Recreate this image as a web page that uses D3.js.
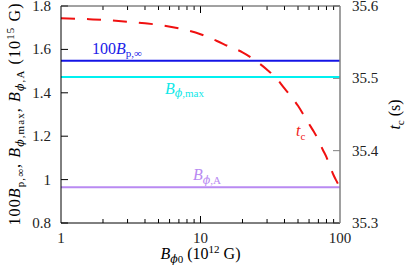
<!DOCTYPE html>
<html>
<head>
<meta charset="utf-8">
<script src="https://cdn.jsdelivr.net/npm/d3@7"></script>
<style>
  body { margin: 0; background: #fff; }
  text { font-family: "Liberation Serif", "DejaVu Serif", serif; }
</style>
</head>
<body>
<div id="chart"></div>
<script>
// Data
var bField = [1, 1.5, 2, 3, 4, 5, 7, 10, 13, 16, 20, 25, 30, 35, 40, 45, 50, 55, 60, 65, 70, 75, 80, 85, 90, 95, 100];
var tc = [35.583, 35.582, 35.581, 35.578, 35.576, 35.574, 35.569, 35.561, 35.552, 35.544, 35.536, 35.524, 35.512,
          35.500, 35.486, 35.474, 35.462, 35.449, 35.437, 35.426, 35.415, 35.402, 35.391, 35.378, 35.366, 35.357, 35.349];
var bpInf100 = 1.548;   // 100 B_p,inf
var bPhiMax = 1.473;
var bPhiA = 0.965;
var leftTicks = [0.8, 1, 1.2, 1.4, 1.6, 1.8];
var rightTicks = [35.3, 35.4, 35.5, 35.6];
var xTicks = [1, 10, 100];

var width = 407, height = 265;
var margin = { top: 6, right: 67, bottom: 42, left: 61 };
var w = width - margin.left - margin.right;
var h = height - margin.top - margin.bottom;
var PHI = '\u03D5';

var svg = d3.select('#chart').append('svg')
    .attr('width', width)
    .attr('height', height);

var g = svg.append('g').attr('transform', 'translate(' + margin.left + ',' + margin.top + ')');

// Scales
var x = d3.scaleLog().domain([1, 100]).range([0, w]);
var yL = d3.scaleLinear().domain([0.8, 1.8]).range([h, 0]);
var yR = d3.scaleLinear().domain([35.3, 35.6]).range([h, 0]);

// minor log ticks
var minor = [];
[1, 10].forEach(function (d) { for (var k = 2; k <= 9; k++) minor.push(d * k); });

function xTickMarks(y0, dir) {
    g.selectAll(null).data(minor).enter().append('line')
        .attr('x1', d => x(d)).attr('x2', d => x(d))
        .attr('y1', y0).attr('y2', y0 + dir * 4)
        .attr('stroke', '#000').attr('stroke-width', 1);
    g.selectAll(null).data([10]).enter().append('line')
        .attr('x1', d => x(d)).attr('x2', d => x(d))
        .attr('y1', y0).attr('y2', y0 + dir * 7)
        .attr('stroke', '#000').attr('stroke-width', 1);
}
xTickMarks(h, -1);
xTickMarks(0, 1);

// left ticks
g.selectAll(null).data(leftTicks).enter().append('line')
    .attr('x1', 0).attr('x2', 7)
    .attr('y1', d => yL(d)).attr('y2', d => yL(d))
    .attr('stroke', '#000');
g.selectAll(null).data(leftTicks).enter().append('text')
    .attr('x', -10).attr('y', d => yL(d) + 5)
    .attr('text-anchor', 'end')
    .style('font-size', '15px')
    .attr('fill', '#222')
    .text(d => d);

// right ticks (grey)
g.selectAll(null).data(rightTicks).enter().append('line')
    .attr('x1', w).attr('x2', w - 7)
    .attr('y1', d => yR(d)).attr('y2', d => yR(d))
    .attr('stroke', '#808080');
g.selectAll(null).data(rightTicks).enter().append('text')
    .attr('x', w + 12).attr('y', d => yR(d) + 5)
    .style('font-size', '15px')
    .attr('fill', '#222')
    .text(d => d.toFixed(1));

// x tick labels
g.selectAll(null).data(xTicks).enter().append('text')
    .attr('x', d => x(d)).attr('y', h + 20)
    .attr('text-anchor', 'middle')
    .style('font-size', '15px')
    .attr('fill', '#222')
    .text(d => d);

// horizontal lines
var hl = [
    { v: bpInf100, c: '#1414e6' },
    { v: bPhiMax, c: '#00f0f0' },
    { v: bPhiA, c: '#b98af2' }
];
g.selectAll(null).data(hl).enter().append('line')
    .attr('x1', 0).attr('x2', w)
    .attr('y1', d => yL(d.v)).attr('y2', d => yL(d.v))
    .attr('stroke', d => d.c).attr('stroke-width', 2);

// tc curve
var line = d3.line().x((d, i) => x(bField[i])).y(d => yR(d)).curve(d3.curveMonotoneX);
g.append('path')
    .datum(tc)
    .attr('d', line)
    .attr('fill', 'none')
    .attr('stroke', '#f01010')
    .attr('stroke-width', 2)
    .attr('stroke-dasharray', '14,12');

// frame
g.append('line').attr('x1', 0).attr('x2', 0).attr('y1', 0).attr('y2', h).attr('stroke', '#000');
g.append('line').attr('x1', 0).attr('x2', w).attr('y1', h).attr('y2', h).attr('stroke', '#000');
g.append('line').attr('x1', 0).attr('x2', w).attr('y1', 0).attr('y2', 0).attr('stroke', '#444');
g.append('line').attr('x1', w).attr('x2', w).attr('y1', 0).attr('y2', h).attr('stroke', '#808080').attr('stroke-width', 1.5);

// math-ish label helper: italic symbol with subscript (phi drawn from DejaVu Serif)
function sub(t, main, subs, size) {
    t.append('tspan').style('font-style', 'italic').text(main);
    var s = t.append('tspan').attr('dy', 3.5).style('font-size', size);
    if (subs.charAt(0) === PHI) {
        s.append('tspan').style('font-family', 'DejaVu Serif').style('font-style', 'italic').text(PHI);
        s.append('tspan').text(subs.slice(1));
    } else {
        s.text(subs);
    }
}
var l1 = g.append('text').attr('x', 31).attr('y', yL(bpInf100) - 7).attr('fill', '#2020e8').style('font-size', '16px');
l1.append('tspan').text('100');
sub(l1, 'B', 'p,\u221E', '11px');

var l2 = g.append('text').attr('x', 104).attr('y', yL(bPhiMax) + 17).attr('fill', '#10e8e8').style('font-size', '16px');
sub(l2, 'B', PHI + ',max', '11px');

var l3 = g.append('text').attr('x', 132).attr('y', yL(bPhiA) - 7).attr('fill', '#b98af2').style('font-size', '16px');
sub(l3, 'B', PHI + ',A', '11px');

var l4 = g.append('text').attr('x', 235).attr('y', yR(35.42)).attr('fill', '#f02020').style('font-size', '16px');
sub(l4, 't', 'c', '11px');

// axis titles
var xt = svg.append('text').attr('x', margin.left + w / 2).attr('y', 259).attr('text-anchor', 'middle').style('font-size', '16px');
sub(xt, 'B', PHI + '0', '11px');
xt.append('tspan').attr('dy', -3.5).text(' (10');
xt.append('tspan').attr('dy', -6).style('font-size', '11px').text('12');
xt.append('tspan').attr('dy', 6).text(' G)');

var yt = svg.append('text')
    .attr('transform', 'translate(20,' + (margin.top + h / 2) + ') rotate(-90)')
    .attr('text-anchor', 'middle').style('font-size', '16px')
    .attr('textLength', 222).attr('lengthAdjust', 'spacing');
yt.append('tspan').text('100');
sub(yt, 'B', 'p,\u221E', '11px');
yt.append('tspan').attr('dy', -3.5).text(', ');
sub(yt, 'B', PHI + ',max', '11px');
yt.append('tspan').attr('dy', -3.5).text(', ');
sub(yt, 'B', PHI + ',A', '11px');
yt.append('tspan').attr('dy', -3.5).text(' (10');
yt.append('tspan').attr('dy', -6).style('font-size', '11px').text('15');
yt.append('tspan').attr('dy', 6).text(' G)');

var rt = svg.append('text')
    .attr('transform', 'translate(400,' + (margin.top + h / 2) + ') rotate(-90)')
    .attr('text-anchor', 'middle').style('font-size', '16px');
sub(rt, 't', 'c', '11px');
rt.append('tspan').attr('dy', -3.5).text(' (s)');
</script>
</body>
</html>
